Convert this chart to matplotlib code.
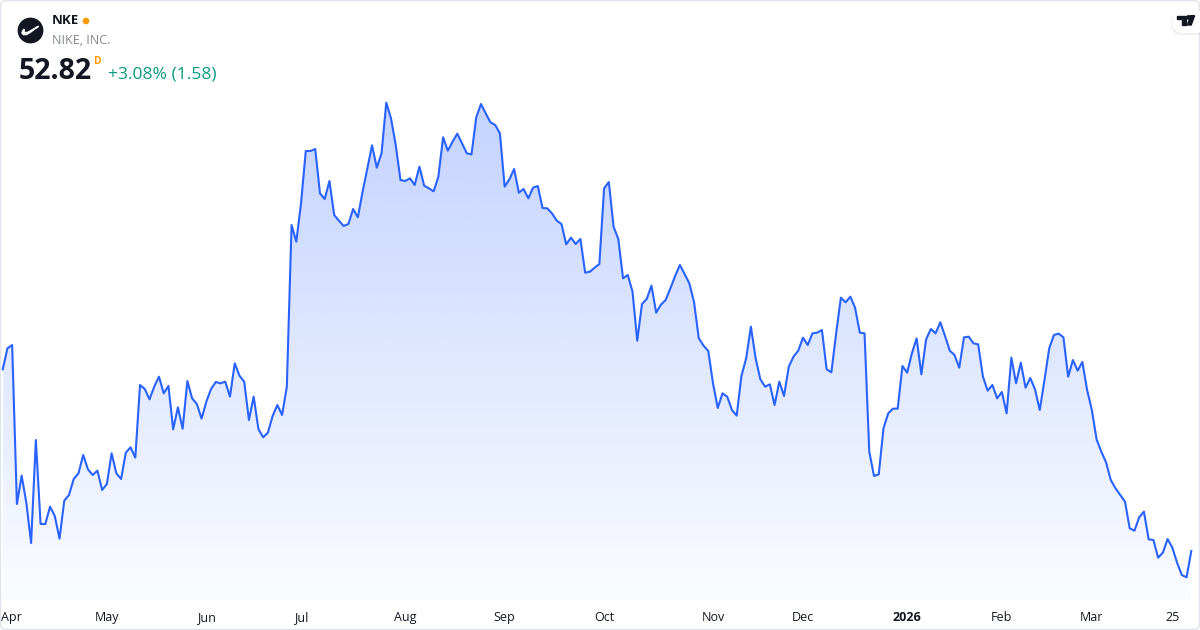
import numpy as np
import pandas as pd
import matplotlib
matplotlib.use("Agg")
import matplotlib.pyplot as plt
import matplotlib.transforms as mtransforms
from matplotlib.patches import Circle, FancyBboxPatch, Polygon
from matplotlib.path import Path
from matplotlib.colors import to_rgb

plt.rcParams["font.family"] = ["Open Sans", "DejaVu Sans"]

# NYSE trading days, Mar 31 2025 -> Mar 31 2026
holidays = ["2025-04-18", "2025-05-26", "2025-06-19", "2025-07-04", "2025-09-01",
            "2025-11-27", "2025-12-25", "2026-01-01", "2026-01-19", "2026-02-16"]
dates = pd.bdate_range("2025-03-31", "2026-03-31", freq="C", holidays=holidays)

# daily close
prices = [
    63.72, 64.98, 65.18, 55.64, 57.34, 55.70, 53.30, 59.48, 54.44, 54.44,
    55.48, 54.92, 53.56, 55.84, 56.18, 57.14, 57.48, 58.58, 57.72, 57.38,
    57.64, 56.48, 56.84, 58.68, 57.48, 57.14, 58.72, 59.04, 58.42, 62.78,
    62.54, 61.92, 62.68, 63.28, 62.28, 62.72, 60.12, 61.44, 60.16, 63.02,
    61.98, 61.64, 60.76, 61.78, 62.54, 62.96, 62.88, 62.98, 62.08, 64.08,
    63.34, 62.98, 60.68, 62.08, 60.14, 59.64, 59.92, 60.92, 61.58, 60.98,
    62.68, 72.38, 71.38, 73.68, 76.82, 76.82, 76.94, 74.28, 73.94, 75.02,
    72.98, 72.64, 72.32, 72.44, 73.34, 72.84, 74.38, 75.78, 77.16, 75.82,
    76.68, 79.72, 78.78, 77.18, 75.08, 75.02, 75.18, 74.78, 75.88, 74.74,
    74.58, 74.40, 75.28, 77.64, 76.84, 77.38, 77.86, 77.28, 76.68, 76.62,
    78.84, 79.64, 79.08, 78.54, 78.38, 77.88, 74.68, 75.12, 75.74, 74.32,
    74.54, 73.98, 74.62, 74.72, 73.40, 73.38, 73.08, 72.64, 72.44, 71.22,
    71.62, 71.24, 71.54, 69.52, 69.58, 69.82, 70.04, 74.58, 74.96, 72.28,
    71.54, 69.18, 69.38, 68.38, 65.44, 67.64, 67.94, 68.74, 67.12, 67.60,
    67.88, 68.58, 69.32, 69.98, 69.44, 68.88, 67.74, 65.58, 65.14, 64.82,
    62.88, 61.40, 62.28, 62.08, 61.28, 60.94, 63.32, 64.38, 66.28, 64.38,
    63.12, 62.68, 62.82, 61.58, 62.98, 62.12, 63.88, 64.48, 64.84, 65.62,
    65.18, 65.88, 65.92, 66.08, 63.72, 63.54, 65.88, 68.02, 67.74, 68.08,
    67.42, 65.92, 65.88, 58.78, 57.32, 57.42, 60.18, 61.08, 61.36, 61.36,
    63.92, 63.52, 64.68, 65.58, 63.42, 65.52, 66.14, 65.88, 66.54, 65.72,
    64.84, 64.58, 63.82, 65.64, 65.68, 65.28, 65.22, 63.28, 62.44, 62.78,
    61.98, 62.36, 61.08, 64.42, 62.88, 64.12, 62.62, 63.20, 62.52, 61.28,
    63.08, 64.98, 65.78, 65.86, 65.64, 63.28, 64.28, 63.64, 64.16, 62.48,
    61.28, 59.52, 58.78, 58.14, 57.08, 56.58, 56.18, 55.78, 54.18, 54.04,
    54.84, 55.18, 53.52, 53.48, 52.42, 52.72, 53.54, 53.02, 52.12, 51.38,
    51.24, 52.82,
]

tick_dates = ["2025-04-01", "2025-05-01", "2025-06-02", "2025-07-01", "2025-08-01",
              "2025-09-02", "2025-10-01", "2025-11-03", "2025-12-01", "2026-01-02",
              "2026-02-02", "2026-03-02", "2026-03-25"]
tick_labels = ["Apr", "May", "Jun", "Jul", "Aug", "Sep", "Oct", "Nov", "Dec",
               "2026", "Feb", "Mar", "25"]

x = np.arange(len(prices))
tick_pos = [dates.get_loc(pd.Timestamp(d)) for d in tick_dates]

blue = "#2962FF"

fig = plt.figure(figsize=(12, 6.3), dpi=100)
fig.patch.set_facecolor("white")

ax = fig.add_axes([0, 30 / 630, 1, 600 / 630])
ax.set_facecolor("none")
ymin, ymax = 49.88, 85.88

# gradient area under the line
grad = np.zeros((256, 1, 4))
grad[:, 0, :3] = to_rgb(blue)
grad[:, 0, 3] = np.linspace(0.28, 0.02, 256)
im = ax.imshow(grad, extent=[x[0], x[-1], ymin, max(prices)], aspect="auto",
               origin="upper", zorder=1, interpolation="bilinear")
verts = [(x[0], ymin)] + list(zip(x, prices)) + [(x[-1], ymin)]
im.set_clip_path(Path(verts), transform=ax.transData)
ax.set_xlim(-0.57, 252.84)
ax.set_ylim(ymin, ymax)

ax.plot(x, prices, color=blue, lw=1.5, solid_joinstyle="round", zorder=3)

for s in ax.spines.values():
    s.set_visible(False)
ax.set_yticks([])
ax.set_xticks(tick_pos, tick_labels)
ax.tick_params(axis="x", length=0, pad=8, labelsize=9, labelcolor="#131722")
labels = ax.get_xticklabels()
labels[9].set_fontweight("bold")
# keep the first label inside the frame
labels[0].set_transform(labels[0].get_transform()
                        + mtransforms.ScaledTranslation(4 / 100, 0, fig.dpi_scale_trans))

# overlay in pixel coordinates for the header
oax = fig.add_axes([0, 0, 1, 1], zorder=5)
oax.set_xlim(0, 1200)
oax.set_ylim(630, 0)
oax.axis("off")
oax.set_facecolor("none")

oax.add_patch(FancyBboxPatch((0.5, 0.5), 1199, 629, boxstyle="round,pad=0,rounding_size=6",
                             fc="none", ec="#E0E3EB", lw=1))

# logo
oax.add_patch(Circle((30.5, 30.5), 12.2, color="#131722"))
oax.add_patch(Polygon([(38.6, 26.2), (30.5, 32.2), (26.5, 34.6), (23.4, 34.6), (22.0, 33.0),
                       (22.6, 31.0), (24.3, 29.2), (23.9, 31.3), (24.9, 32.6), (27.5, 32.4)],
                      closed=True, color="white"))

oax.text(52, 20.5, "NKE", fontsize=9.5, fontweight="bold", color="#131722", va="center")
oax.add_patch(Circle((86, 21), 2.6, color="#FF9800"))
oax.text(52, 40.5, "NIKE, INC.", fontsize=9, color="#868993", va="center")
oax.text(18.5, 71.5, "52.82", fontsize=20.5, fontweight="bold", color="#131722", va="center")
oax.text(93, 61, "D", fontsize=7.5, fontweight="bold", color="#FF9800", va="center")
oax.text(108.5, 74.5, "+3.08% (1.58)", fontsize=12.6, color="#089981", va="center")

# TradingView badge
oax.add_patch(FancyBboxPatch((1171, 12), 40, 23, boxstyle="round,pad=0,rounding_size=11.5",
                             fc="#000000", ec="none", alpha=0.06))
oax.add_patch(FancyBboxPatch((1172, 11), 40, 22, boxstyle="round,pad=0,rounding_size=11",
                             fc="white", ec="none"))
oax.add_patch(Polygon([(1177.3, 15.7), (1186, 15.7), (1186, 25), (1181.8, 25),
                       (1181.8, 19), (1177.3, 19)], closed=True, color="#131722"))
oax.add_patch(Circle((1188.6, 17.4), 1.7, color="#131722"))
oax.add_patch(Polygon([(1190.8, 15.7), (1194.6, 15.7), (1191.2, 25), (1187.4, 25)],
                      closed=True, color="#131722"))

fig.savefig("out.png", dpi=100, facecolor="white")
